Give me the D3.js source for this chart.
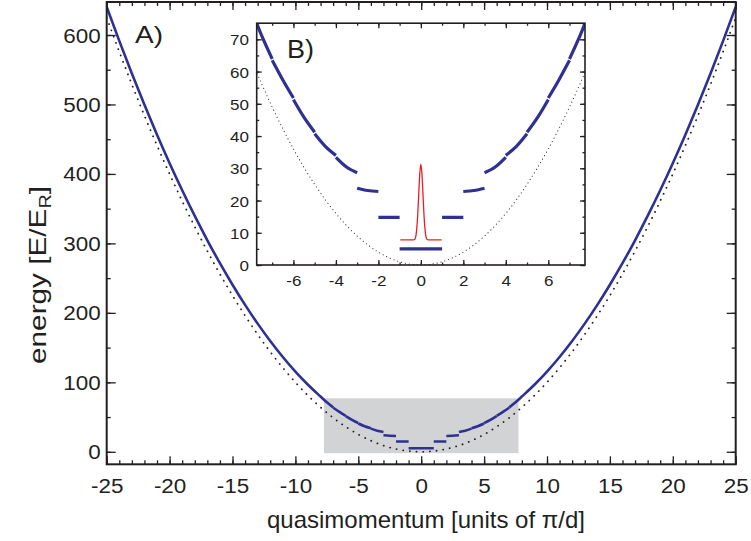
<!DOCTYPE html>
<html><head><meta charset="utf-8">
<script src="https://cdn.jsdelivr.net/npm/d3@7"></script>
<style>
body{margin:0;background:#fff}
text{font-family:"Liberation Sans",Arial,Helvetica,sans-serif;fill:#231f20}
</style>
</head><body><svg id="c" width="751" height="541"></svg>
<script>
// ---------------- data ----------------
const qGrid = [-25,-24,-23,-22,-21,-20,-19,-18,-17,-16,-15,-14,-13,-12,-11,-10,-9,-8,-7,-6,-5,-4,-3,-2,-1,0,1,2,3,4,5,6,7,8,9,10,11,12,13,14,15,16,17,18,19,20,21,22,23,24,25];
const freeE = [625,576,529,484,441,400,361,324,289,256,225,196,169,144,121,100,81,64,49,36,25,16,9,4,1,0,1,4,9,16,25,36,49,64,81,100,121,144,169,196,225,256,289,324,361,400,441,484,529,576,625];
// lowest bands (positive quasimomentum side; mirrored for negative q)
const bandQ = [[-1,1],[1,2],[2,2.5,3],[3,3.5,4],[4,4.5,5],[5,5.5,6],[6,6.5,7]];
const bandE = [[5.0,5.0],[14.8,14.8],[22.8,23.1,23.8],[28.6,30.4,33.4],[34.0,36.8,40.7],[41.2,45.8,51.3],[51.8,57.4,63.5]];
// upper bands (nearly free particle)
const outerQ = [7,7.5,8,9,10,11,12,13,14,15,16,17,18,19,20,21,22,23,24,25];
const outerE = [63.9,71.2,79.5,96.5,115.5,136.5,159.5,184.5,211.5,240.5,271.5,304.5,339.5,376.5,415.5,456.5,499.5,544.5,591.5,640.5];
// red marker (inset)
const markQ = [-0.97,-0.35,-0.3,-0.25,-0.2,-0.15,-0.1,-0.05,0,0.05,0.1,0.15,0.2,0.25,0.3,0.35,0.98];
const markE = [7.8,7.8,7.9,8.5,10.8,15.2,22.0,28.3,31.3,28.3,22.0,15.2,10.8,8.5,7.9,7.8,7.8];
// shaded zoom region
const shadeQ = [-7.73,7.73];
const shadeE = [-2,77];
// ticks
const xTicksMain = [-25,-20,-15,-10,-5,0,5,10,15,20,25];
const yTicksMain = [0,100,200,300,400,500,600];
const xTicksInset = [-6,-4,-2,0,2,4,6];
const yTicksInset = [0,10,20,30,40,50,60,70];

// ---------------- drawing ----------------
const svg = d3.select("#c");
const INK = "#231f20", BLUE = "#2e3192", RED = "#ed1c24";

function stretch(sel, s){
  sel.each(function(){
    const w = this.getComputedTextLength();
    d3.select(this).attr("textLength", w*s).attr("lengthAdjust","spacingAndGlyphs");
  });
}
function styleAxis(g, fs){
  g.select(".domain").remove();
  g.selectAll(".tick line").attr("stroke", INK).attr("stroke-width", 1.3);
  g.selectAll("text").attr("font-size", fs).attr("fill", INK)
   .attr("font-family", '"Liberation Sans",Arial,sans-serif');
}

// main scales
const x = d3.scaleLinear().domain([-25,25]).range([106.7,735.7]);
const y = d3.scaleLinear().domain([-18,647.5]).range([464.3,2]);
const [X0,X1] = x.range(), [Y0,Y1] = [y.range()[1], y.range()[0]];

svg.append("defs").append("clipPath").attr("id","clipMain")
  .append("rect").attr("x",X0).attr("y",Y0).attr("width",X1-X0).attr("height",Y1-Y0);

// shaded rect
svg.append("rect")
  .attr("x", x(shadeQ[0])).attr("width", x(shadeQ[1])-x(shadeQ[0]))
  .attr("y", y(shadeE[1])).attr("height", y(shadeE[0])-y(shadeE[1]))
  .attr("fill","#d1d3d4");

const lineMain = d3.line().x(d=>x(d[0])).y(d=>y(d[1])).curve(d3.curveMonotoneX);
const gm = svg.append("g").attr("clip-path","url(#clipMain)");

// free particle dotted
gm.append("path").datum(qGrid.map((q,i)=>[q,freeE[i]]))
  .attr("d", lineMain).attr("fill","none").attr("stroke",INK)
  .attr("stroke-width",1.8).attr("stroke-linecap","round").attr("stroke-dasharray","0.1,6.6");

function bandSegments(){
  const segs = [];
  bandQ.forEach((qs,i)=>{
    const pts = qs.map((q,j)=>[q,bandE[i][j]]);
    segs.push(pts);
    if (qs[0] >= 0) segs.push(pts.map(p=>[-p[0],p[1]]).reverse());
  });
  const outer = outerQ.map((q,i)=>[q,outerE[i]]);
  segs.push(outer);
  segs.push(outer.map(p=>[-p[0],p[1]]).reverse());
  return segs;
}
bandSegments().forEach(seg=>{
  gm.append("path").datum(seg).attr("d", lineMain).attr("fill","none")
    .attr("stroke",BLUE).attr("stroke-width",2.6).attr("stroke-linecap","butt");
});

// main axes
const minorX = d3.range(-25,26,1), minorY = d3.range(0,647,50);
function mainAxes(){
  const gb = svg.append("g").attr("transform",`translate(0,${Y1})`)
    .call(d3.axisBottom(x).tickValues(minorX).tickSize(-4).tickFormat(""));
  styleAxis(gb,0);
  const gB = svg.append("g").attr("transform",`translate(0,${Y1})`)
    .call(d3.axisBottom(x).tickValues(xTicksMain).tickSize(-8).tickPadding(15).tickFormat(d=>String(d)));
  styleAxis(gB,19.5); stretch(gB.selectAll("text"),1.15);
  const gt = svg.append("g").attr("transform",`translate(0,${Y0})`)
    .call(d3.axisTop(x).tickValues(minorX).tickSize(-4).tickFormat(""));
  styleAxis(gt,0);
  const gT = svg.append("g").attr("transform",`translate(0,${Y0})`)
    .call(d3.axisTop(x).tickValues(xTicksMain).tickSize(-8).tickFormat(""));
  styleAxis(gT,0);
  const gl = svg.append("g").attr("transform",`translate(${X0},0)`)
    .call(d3.axisLeft(y).tickValues(minorY).tickSize(-4).tickFormat(""));
  styleAxis(gl,0);
  const gL = svg.append("g").attr("transform",`translate(${X0},0)`)
    .call(d3.axisLeft(y).tickValues(yTicksMain).tickSize(-9).tickPadding(6).tickFormat(d=>String(d)));
  styleAxis(gL,19.5); stretch(gL.selectAll("text"),1.15);
  gL.selectAll("text").attr("dy","0.36em");
  const gr = svg.append("g").attr("transform",`translate(${X1},0)`)
    .call(d3.axisRight(y).tickValues(minorY).tickSize(-4).tickFormat(""));
  styleAxis(gr,0);
  const gR = svg.append("g").attr("transform",`translate(${X1},0)`)
    .call(d3.axisRight(y).tickValues(yTicksMain).tickSize(-9).tickFormat(""));
  styleAxis(gR,0);
  svg.append("rect").attr("x",X0).attr("y",Y0).attr("width",X1-X0).attr("height",Y1-Y0)
    .attr("fill","none").attr("stroke",INK).attr("stroke-width",2);
}
mainAxes();

// titles
const xt = svg.append("text").attr("x",(267+585)/2).attr("y",528).attr("text-anchor","middle")
  .attr("font-size",24).text("quasimomentum [units of \u03c0/d]");
xt.attr("textLength",318).attr("lengthAdjust","spacingAndGlyphs");
const yt = svg.append("text").attr("transform","translate(46,275) rotate(-90)").attr("text-anchor","middle")
  .attr("font-size",24);
yt.append("tspan").text("energy [E/E");
yt.append("tspan").attr("font-size",16).attr("dy",5).text("R");
yt.append("tspan").attr("dy",-5).text("]");
yt.attr("textLength",178).attr("lengthAdjust","spacingAndGlyphs");

svg.append("text").attr("x",135).attr("y",43).attr("font-size",24).text("A)")
  .attr("textLength",28).attr("lengthAdjust","spacingAndGlyphs");

// ---------------- inset ----------------
const xi = d3.scaleLinear().domain([-7.73,7.73]).range([256.7,585]);
const yi = d3.scaleLinear().domain([0,75]).range([265,23.2]);
const [I0,I1] = xi.range(), [J0,J1] = [yi.range()[1], yi.range()[0]];
svg.append("rect").attr("x",I0).attr("y",J0).attr("width",I1-I0).attr("height",J1-J0).attr("fill","#fff");
svg.select("defs").append("clipPath").attr("id","clipInset")
  .append("rect").attr("x",I0).attr("y",J0).attr("width",I1-I0).attr("height",J1-J0);
const lineIn = d3.line().x(d=>xi(d[0])).y(d=>yi(d[1])).curve(d3.curveMonotoneX);
const gi = svg.append("g").attr("clip-path","url(#clipInset)");
gi.append("path").datum(qGrid.map((q,i)=>[q,freeE[i]]))
  .attr("d", lineIn).attr("fill","none").attr("stroke","#333")
  .attr("stroke-width",1.1).attr("stroke-linecap","round").attr("stroke-dasharray","0.1,3.9");
bandSegments().forEach(seg=>{
  gi.append("path").datum(seg).attr("d", lineIn).attr("fill","none")
    .attr("stroke",BLUE).attr("stroke-width",3.2).attr("stroke-linecap","butt");
});
gi.append("path").datum(markQ.map((q,i)=>[q,markE[i]]))
  .attr("d", lineIn).attr("fill","none").attr("stroke",RED).attr("stroke-width",1.3);

const minorXi = d3.range(-7,8,1), minorYi = d3.range(0,76,5);
function insetAxes(){
  const a = [];
  a.push(svg.append("g").attr("transform",`translate(0,${J1})`).call(d3.axisBottom(xi).tickValues(minorXi).tickSize(-2.5).tickFormat("")));
  const gB = svg.append("g").attr("transform",`translate(0,${J1})`)
    .call(d3.axisBottom(xi).tickValues(xTicksInset).tickSize(-5).tickPadding(10).tickFormat(d=>String(d)));
  a.push(svg.append("g").attr("transform",`translate(0,${J0})`).call(d3.axisTop(xi).tickValues(minorXi).tickSize(-2.5).tickFormat("")));
  a.push(svg.append("g").attr("transform",`translate(0,${J0})`).call(d3.axisTop(xi).tickValues(xTicksInset).tickSize(-5).tickFormat("")));
  a.push(svg.append("g").attr("transform",`translate(${I0},0)`).call(d3.axisLeft(yi).tickValues(minorYi).tickSize(-2.5).tickFormat("")));
  const gL = svg.append("g").attr("transform",`translate(${I0},0)`)
    .call(d3.axisLeft(yi).tickValues(yTicksInset).tickSize(-5).tickPadding(7.7).tickFormat(d=>String(d)));
  a.push(svg.append("g").attr("transform",`translate(${I1},0)`).call(d3.axisRight(yi).tickValues(minorYi).tickSize(-2.5).tickFormat("")));
  a.push(svg.append("g").attr("transform",`translate(${I1},0)`).call(d3.axisRight(yi).tickValues(yTicksInset).tickSize(-5).tickFormat("")));
  a.forEach(g=>styleAxis(g,0));
  styleAxis(gB,15.5); stretch(gB.selectAll("text"),1.1);
  styleAxis(gL,15.5); stretch(gL.selectAll("text"),1.1);
  gL.selectAll("text").attr("dy","0.36em");
  svg.append("rect").attr("x",I0).attr("y",J0).attr("width",I1-I0).attr("height",J1-J0)
    .attr("fill","none").attr("stroke",INK).attr("stroke-width",1.6);
}
insetAxes();
svg.append("text").attr("x",287).attr("y",58).attr("font-size",25).text("B)")
  .attr("textLength",27).attr("lengthAdjust","spacingAndGlyphs");
</script>
</body></html>
